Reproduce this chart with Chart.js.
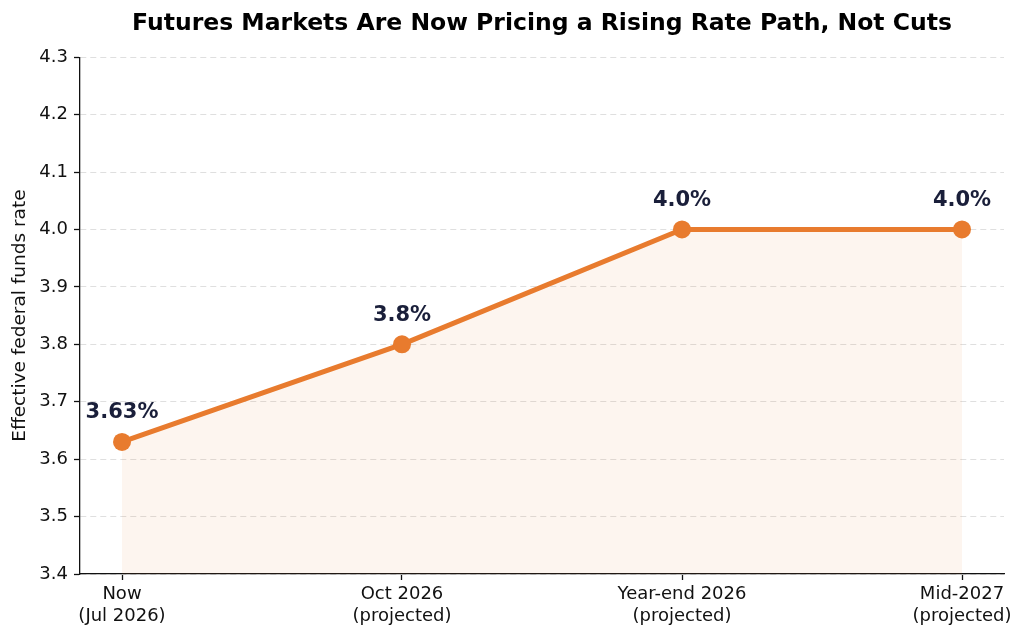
<!DOCTYPE html>
<html>
<head>
<meta charset="utf-8">
<script src="https://cdn.jsdelivr.net/npm/chart.js@4/dist/chart.umd.min.js"></script>
<style>
  html, body { margin: 0; padding: 0; background: #fff; }
  #wrap { width: 1024px; height: 639px; }
</style>
</head>
<body>
<div id="wrap"><canvas id="c"></canvas></div>
<script>
// data
const periods = [['Now', '(Jul 2026)'], ['Oct 2026', '(projected)'], ['Year-end 2026', '(projected)'], ['Mid-2027', '(projected)']];
const rates = [3.63, 3.8, 4.0, 4.0];
const rateLabels = ['3.63%', '3.8%', '4.0%', '4.0%'];
const yTicks = [3.4, 3.5, 3.6, 3.7, 3.8, 3.9, 4.0, 4.1, 4.2, 4.3];

const orange = '#E87B2E';
const font = 'DejaVu Sans';

// draw the value above each point
const valueLabels = {
    id: 'valueLabels',
    afterDatasetsDraw(chart) {
        const ctx = chart.ctx;
        const meta = chart.getDatasetMeta(0);
        ctx.save();
        ctx.font = 'bold 21px "' + font + '"';
        ctx.fillStyle = '#1a1f3a';
        ctx.textAlign = 'center';
        ctx.textBaseline = 'middle';
        meta.data.forEach((pt, i) => {
            ctx.fillText(rateLabels[i], pt.x, pt.y - 29);
        });
        ctx.restore();
    }
};

new Chart(document.getElementById('c'), {
    type: 'line',
    data: {
        datasets: [{
            data: rates.map((v, i) => ({ x: i, y: v })),
            borderColor: orange,
            borderWidth: 5,
            backgroundColor: 'rgba(232, 123, 46, 0.08)',
            fill: 'start',
            pointRadius: 9,
            pointHoverRadius: 9,
            pointBackgroundColor: orange,
            pointBorderColor: orange,
            pointBorderWidth: 0,
            tension: 0
        }]
    },
    options: {
        responsive: true,
        maintainAspectRatio: false,
        animation: false,
        layout: { padding: { left: 0, right: 20, top: 0, bottom: 0 } },
        plugins: {
            legend: { display: false },
            tooltip: { enabled: false },
            title: {
                display: true,
                fullSize: false,
                text: 'Futures Markets Are Now Pricing a Rising Rate Path, Not Cuts',
                color: '#000',
                font: { family: font, size: 23.5, weight: 'bold' },
                padding: { top: 10, bottom: 19 }
            }
        },
        scales: {
            x: {
                type: 'linear',
                min: -0.15,
                max: 3.15,
                afterBuildTicks: (s) => { s.ticks = periods.map((p, i) => ({ value: i })); },
                afterFit: (s) => { s.height = 65; },
                ticks: {
                    color: '#111',
                    font: { family: font, size: 18 },
                    padding: 4,
                    maxRotation: 0,
                    autoSkip: false,
                    callback: (v) => periods[v]
                },
                grid: { drawOnChartArea: false, tickLength: 6, tickColor: '#111', tickWidth: 1.3 },
                border: { color: '#111', width: 1.3 }
            },
            y: {
                min: 3.4,
                max: 4.3,
                afterBuildTicks: (s) => { s.ticks = yTicks.map((v) => ({ value: v })); },
                afterFit: (s) => { s.width = 80; },
                title: {
                    display: true,
                    text: 'Effective federal funds rate',
                    color: '#111',
                    font: { family: font, size: 18.5 },
                    padding: { top: 9, bottom: 0 }
                },
                ticks: {
                    color: '#111',
                    font: { family: font, size: 18 },
                    padding: 6,
                    callback: (v) => v.toFixed(1)
                },
                grid: { color: '#dfdfdf', lineWidth: 1, tickLength: 6, tickColor: '#111', tickWidth: 1.3, tickBorderDash: [] },
                border: { color: '#111', width: 1.3, dash: [6, 4] }
            }
        }
    },
    plugins: [valueLabels]
});
</script>
</body>
</html>
